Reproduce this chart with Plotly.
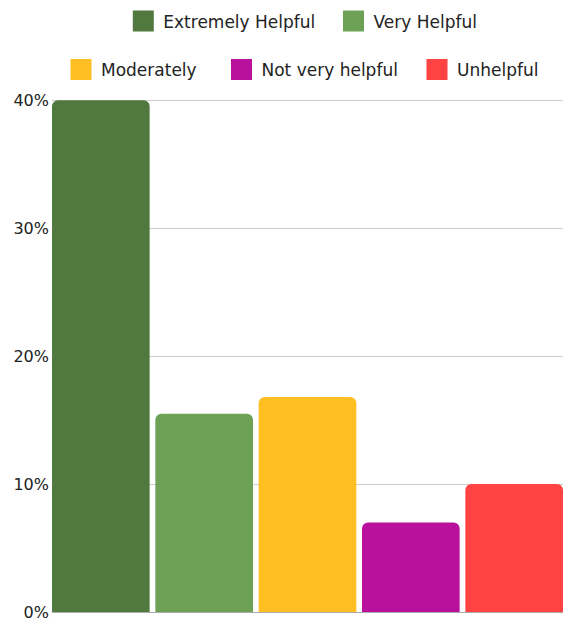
import plotly.graph_objects as go

categories = ["Extremely Helpful", "Very Helpful", "Moderately", "Not very helpful", "Unhelpful"]
values = [40.0, 15.5, 16.8, 7.0, 10.0]
colors = ["#51793f", "#6ca156", "#ffbf23", "#b9119c", "#ff4343"]
tick_vals = [0, 10, 20, 30, 40]
tick_text = ["0%", "10%", "20%", "30%", "40%"]

FONT = "DejaVu Sans"
W, H = 563, 618
ML, MR, MT, MB = 52, 0, 99, 6
PW, PH = W - ML - MR, H - MT - MB

# legend layout: (legend id, swatch centre x px, row centre y px)
legend_ids = ["legend", "legend2", "legend3", "legend4", "legend5"]
legend_cx = [143.3, 353.5, 81.0, 241.5, 437.0]
legend_cy = [21.5, 21.5, 70.0, 70.0, 70.0]

fig = go.Figure()
for cat, val, col, lg in zip(categories, values, colors, legend_ids):
    fig.add_trace(go.Bar(
        x=[cat], y=[val], name=cat, showlegend=False,
        marker=dict(color=col, cornerradius=6, line=dict(width=0)),
    ))
    # legend entry with a larger square swatch
    fig.add_trace(go.Scatter(
        x=[None], y=[None], name=cat, mode="markers", legend=lg,
        marker=dict(symbol="square", size=16, color=col,
                    line=dict(width=5, color=col)),
        hoverinfo="skip",
    ))

legend_layouts = {}
for lg, cx, cy in zip(legend_ids, legend_cx, legend_cy):
    legend_layouts[lg] = dict(
        orientation="h", xanchor="left", yanchor="middle",
        x=(cx - 20 - ML) / PW, y=1 + (MT - cy) / PH,
        font=dict(family=FONT, size=17, color="#222222"),
        bgcolor="rgba(0,0,0,0)", itemclick=False, itemdoubleclick=False,
        itemsizing="trace", borderwidth=0,
    )

fig.update_layout(
    width=W, height=H,
    margin=dict(l=ML, r=MR, t=MT, b=MB, autoexpand=False),
    paper_bgcolor="white", plot_bgcolor="white",
    barmode="overlay", bargap=0.055,
    font=dict(family=FONT, size=16, color="#222222"),
    showlegend=True,
    **legend_layouts,
    xaxis=dict(showticklabels=False, showgrid=False, zeroline=False,
               showline=False, ticks="", range=[-0.4725, 4.4725],
               automargin=False),
    yaxis=dict(range=[0, 40.1], tickvals=tick_vals, ticktext=tick_text,
               showgrid=True, gridcolor="#cccccc", gridwidth=1,
               zeroline=True, zerolinecolor="#aaaaaa", zerolinewidth=1,
               ticks="", ticklabelstandoff=2, ticklabeloverflow="allow",
               automargin=False,
               tickfont=dict(family=FONT, size=16, color="#222222")),
)

fig.write_html("out.html")
